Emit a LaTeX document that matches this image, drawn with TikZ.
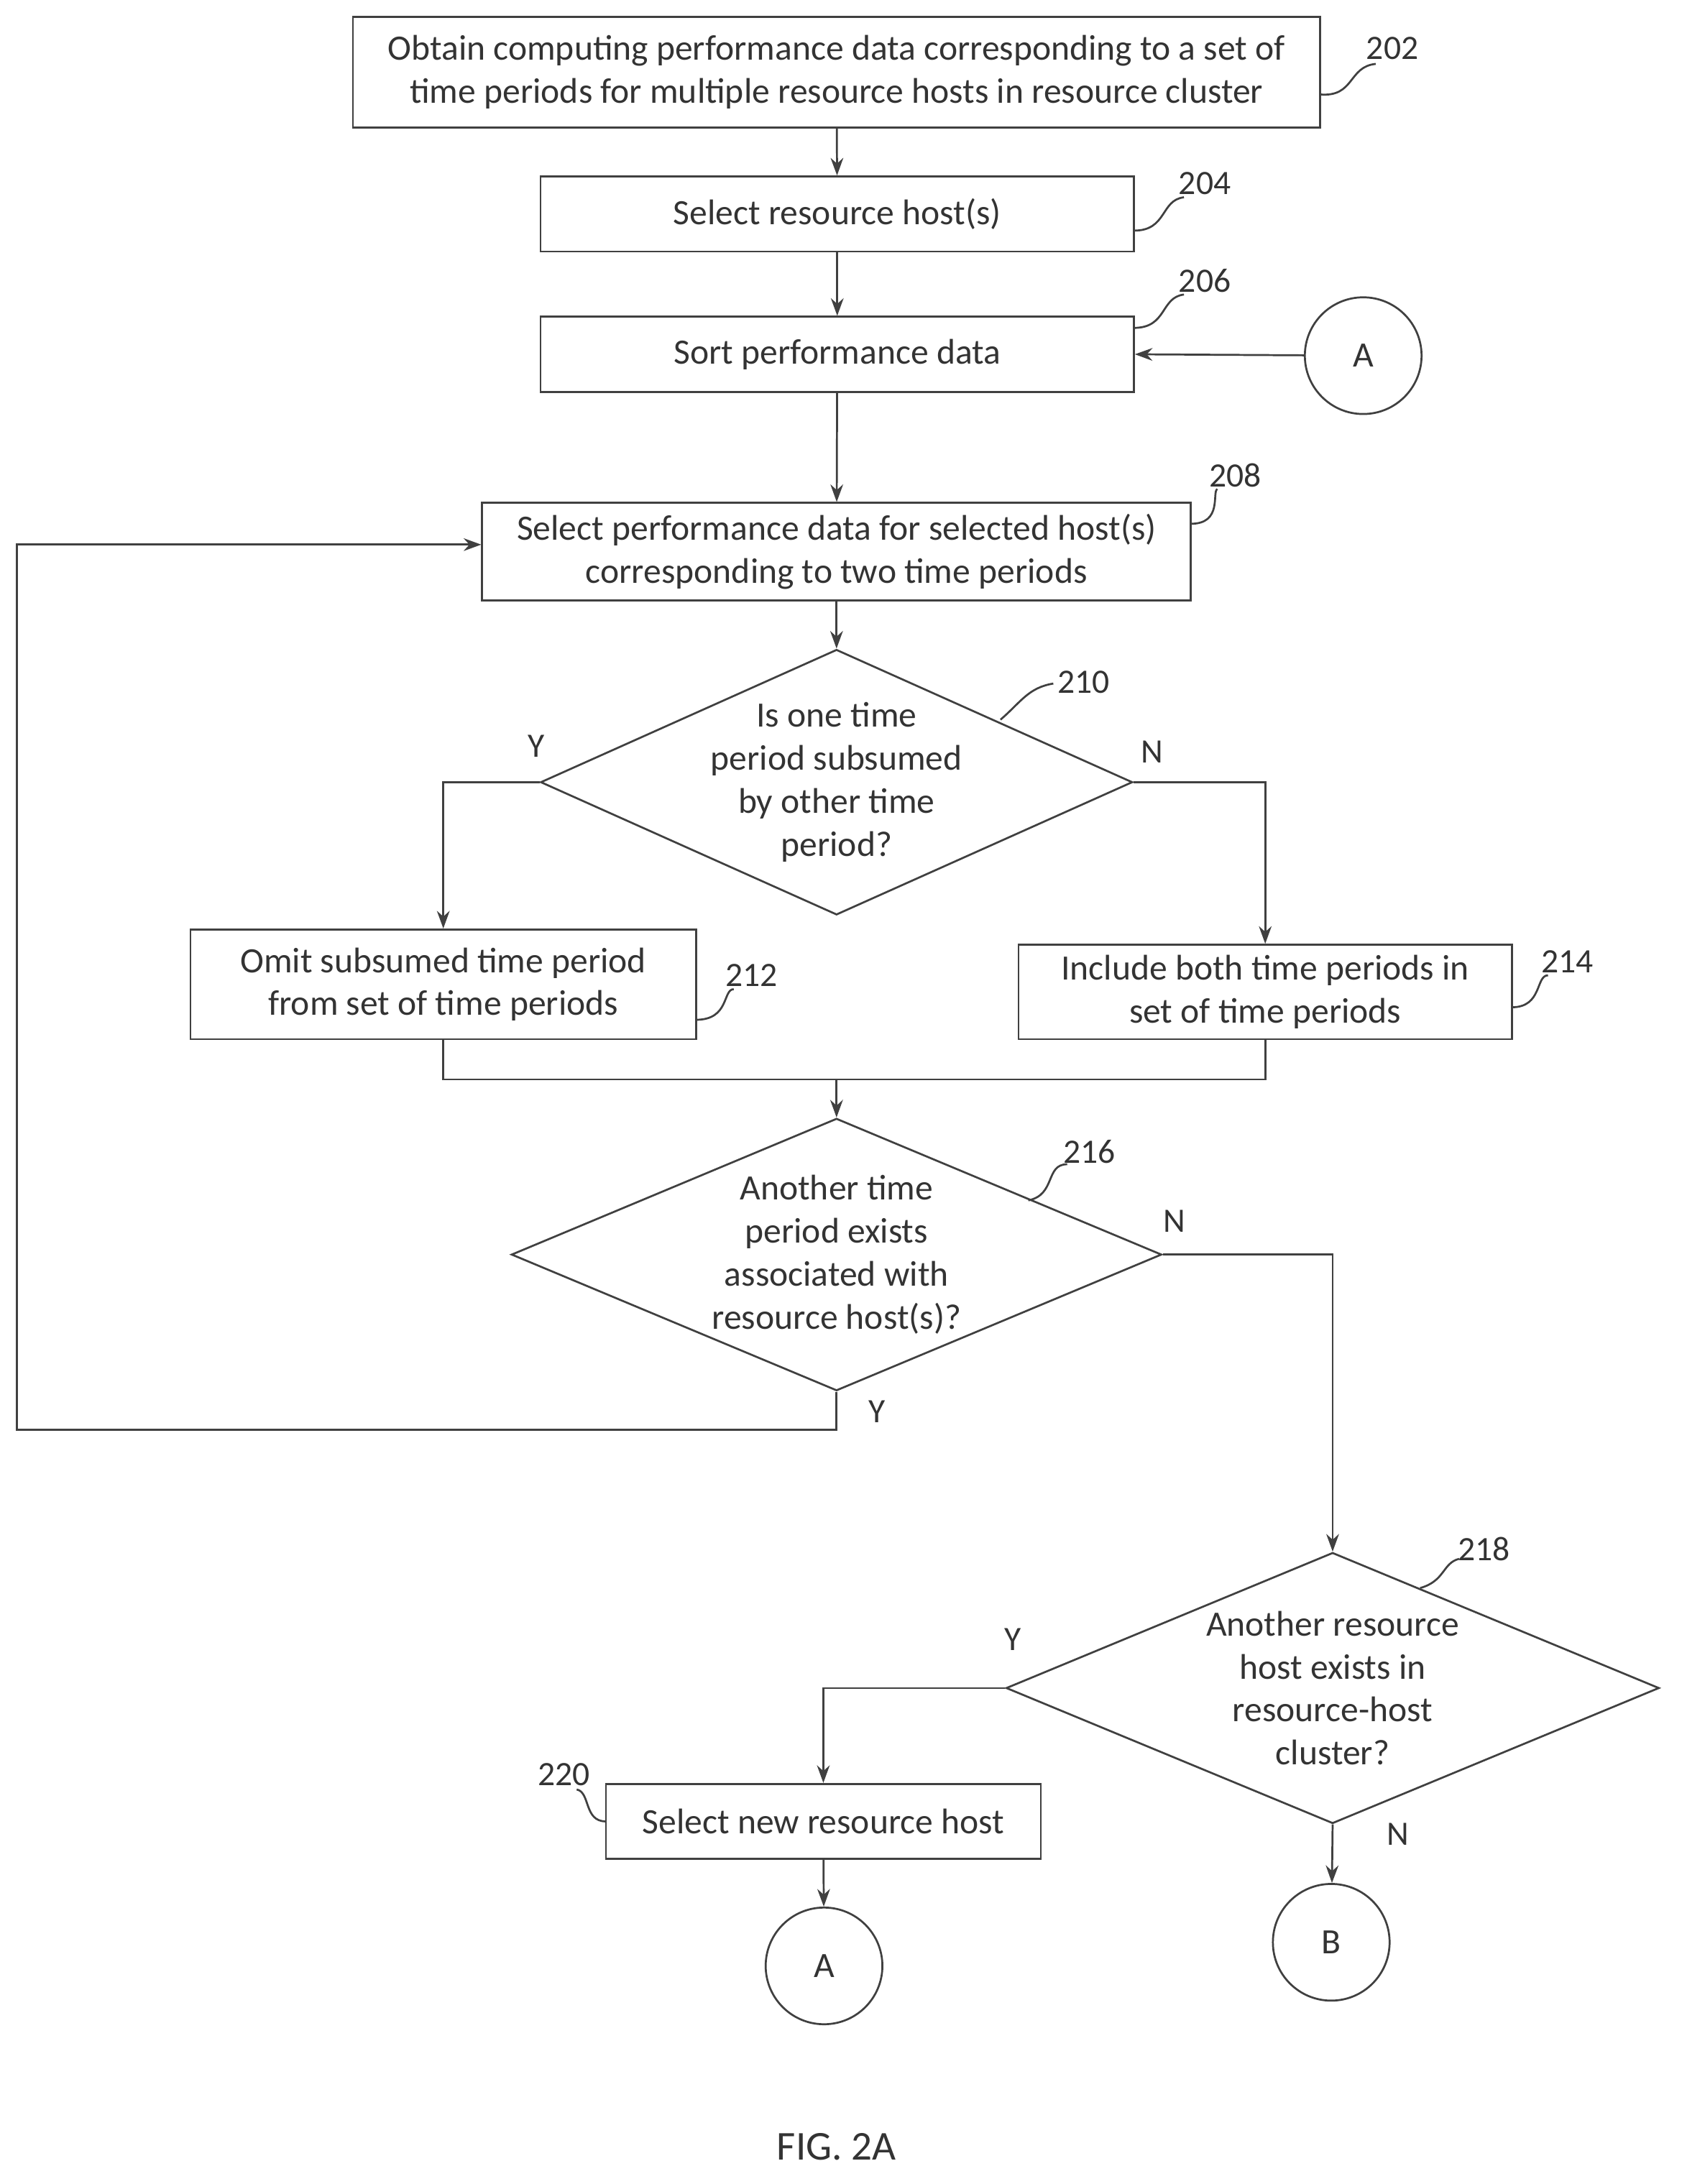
\documentclass[tikz,border=0pt]{standalone}
\usepackage{fontspec}
\setmainfont{Carlito}
\usetikzlibrary{shapes.geometric,arrows.meta}
\begin{document}
\begin{tikzpicture}[x=0.05cm,y=-0.05cm,
  every node/.style={font=\fontsize{36.5}{44}\selectfont,text=black!80},
  line/.style={draw=black!75,line width=2pt},
  arr/.style={line,-{Stealth[length=18pt,width=13pt]}},
  box/.style={draw=black!75,line width=2pt,rectangle,inner sep=0pt,align=center},
  dia/.style={draw=black!75,line width=2pt,diamond,inner sep=0pt},
  circ/.style={draw=black!75,line width=2pt,circle,minimum size=4.2cm,inner sep=0pt},
  lab/.style={font=\fontsize{35}{40}\selectfont},
  sq/.style={line}]
\useasboundingbox (0,0) rectangle (1210,1572);
\node[box,minimum width=34.8cm,minimum height=4cm] (b202) at (602,52) {Obtain computing performance data corresponding to a set of\\time periods for multiple resource hosts in resource cluster};
\node[box,minimum width=21.35cm,minimum height=2.7cm] (b204) at (602.5,154) {Select resource host(s)};
\node[box,minimum width=21.35cm,minimum height=2.7cm] (b206) at (602.5,255) {Sort performance data};
\node[circ] (cA1) at (981,256) {A};
\node[box,minimum width=25.5cm,minimum height=3.5cm] (b208) at (602,397) {Select performance data for selected host(s)\\corresponding to two time periods};
\node[dia,minimum width=21.3cm,minimum height=9.55cm] (d210) at (602,563) {};
\node[align=center] (t210) at (602,563) {Is one time\\period subsumed\\by other time\\period?};
\node[box,minimum width=18.2cm,minimum height=3.95cm] (b212) at (319,708.5) {Omit subsumed time period\\from set of time periods};
\node[box,minimum width=17.75cm,minimum height=3.4cm] (b214) at (910.5,714) {Include both time periods in\\set of time periods};
\node[dia,minimum width=23.4cm,minimum height=9.8cm] (d216) at (602,903) {};
\node[align=center] (t216) at (602,903) {Another time\\period exists\\associated with\\resource host(s)?};
\node[dia,minimum width=23.5cm,minimum height=9.75cm] (d218) at (959,1215) {};
\node[align=center] (t218) at (959,1215) {Another resource\\host exists in\\resource-host\\cluster?};
\node[box,minimum width=15.65cm,minimum height=2.7cm] (b220) at (592.5,1311) {Select new resource host};
\node[circ] (cA2) at (593,1415) {A};
\node[circ] (cB) at (958,1398) {B};
\node[font=\fontsize{42}{48}\selectfont] (fig) at (602,1545) {FIG. 2A};
% labels
\node[lab] (l202) at (1002,35) {202};
\node[lab] (l204) at (867,132) {204};
\node[lab] (l206) at (867,202) {206};
\node[lab] (l208) at (889,342) {208};
\node[lab] (l210) at (780,491) {210};
\node[lab] (l212) at (541,702) {212};
\node[lab] (l214) at (1128,692) {214};
\node[lab] (l216) at (784,829) {216};
\node[lab] (l218) at (1068,1115) {218};
\node[lab] (l220) at (406,1277) {220};
\node[lab] (y1) at (386,537) {Y};
\node[lab] (n1) at (829,541) {N};
\node[lab] (n2) at (845,879) {N};
\node[lab] (y2) at (631,1016) {Y};
\node[lab] (y3) at (729,1180) {Y};
\node[lab] (n3) at (1006,1320) {N};
% squiggles
\draw[sq] (950,68) .. controls (975,70) and (970,48) .. (990,46);
\draw[sq] (816,166) .. controls (840,166) and (835,144) .. (852,142);
\draw[sq] (816,236) .. controls (840,236) and (835,214) .. (852,212);
\draw[sq] (857,377) .. controls (880,377) and (872,354) .. (876,352);
\draw[sq] (720,518) .. controls (735,505) and (740,495) .. (758,492);
\draw[sq] (501,734) .. controls (525,734) and (520,712) .. (528,712);
\draw[sq] (1088,725) .. controls (1110,725) and (1105,702) .. (1114,702);
\draw[sq] (740,864) .. controls (760,860) and (752,838) .. (768,838);
\draw[sq] (1022,1143) .. controls (1040,1138) and (1038,1125) .. (1050,1122);
\draw[sq] (436,1311) .. controls (420,1311) and (425,1290) .. (415,1288);
% connectors
\draw[arr] (b202) -- (b204);
\draw[arr] (b204) -- (b206);
\draw[arr] (cA1) -- (b206.east);
\draw[arr] (b206) -- (b208);
\draw[arr] (b208) -- (d210.north);
\draw[arr] (d210.west) -| (b212.north);
\draw[arr] (d210.east) -| (b214.north);
\draw[line] (b212.south) -- (319,777) -- (910.5,777) -- (b214.south);
\coordinate (m) at (602,777);
\draw[arr] (m) -- (d216.north);
\draw[arr] (d216.south) -- (602,1029) -- (12,1029) -- (12,392) -- (b208.west |- 0,392);
\draw[arr] (d216.east) -| (d218.north);
\draw[arr] (d218.west) -| (b220.north);
\draw[arr] (b220) -- (cA2);
\draw[arr] (d218.south) -- (cB);
\end{tikzpicture}
\end{document}
